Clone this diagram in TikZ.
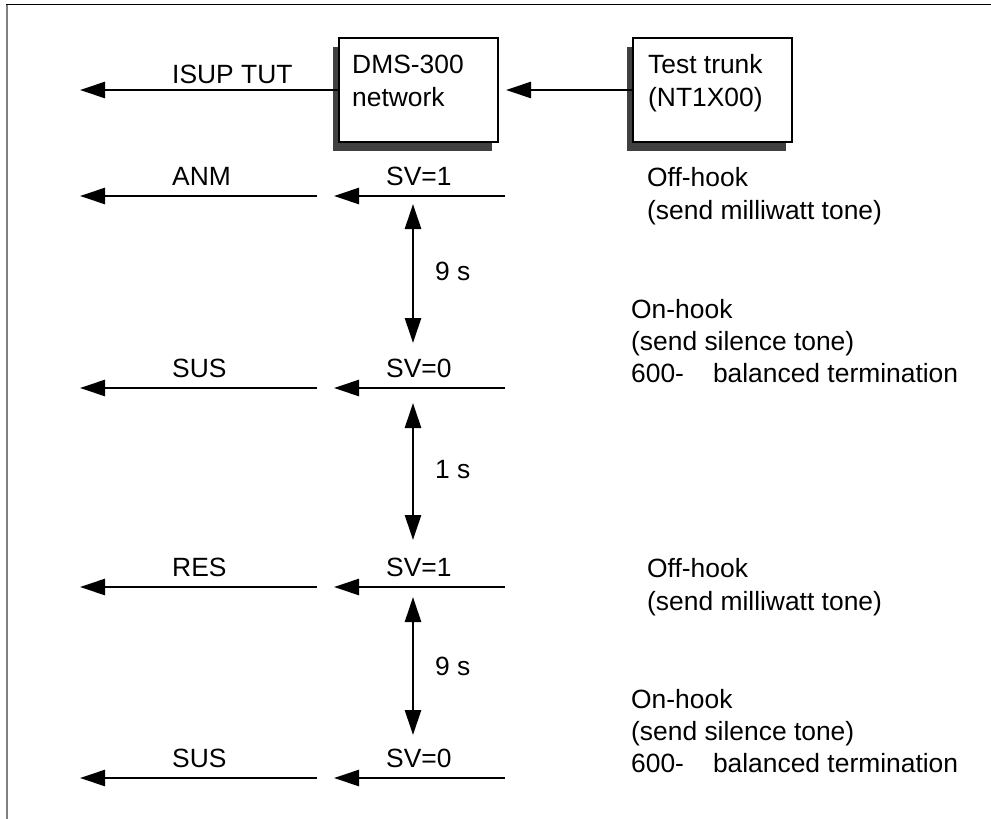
\documentclass[tikz,border=0pt]{standalone}
\usepackage{fontspec}
\setmainfont{Liberation Sans}
\usetikzlibrary{arrows.meta,shadows}
\newcommand\fsz{\fontsize{26.4pt}{32pt}\selectfont}
\begin{document}
\begin{tikzpicture}[x=1pt,y=-1pt,
  arr/.style={line width=2.6pt, -{Triangle[length=25pt,width=16pt]}},
  darr/.style={line width=2.6pt, {Triangle[length=25pt,width=16pt]}-{Triangle[length=25pt,width=16pt]}},
  box/.style={draw, line width=2pt, fill=white, minimum width=159pt, minimum height=104pt, inner sep=0pt,
    drop shadow={shadow xshift=-6pt, shadow yshift=-8.5pt, fill=black!75, opacity=1}},
  lbl/.style={anchor=base west, inner sep=0pt, font=\fsz},
  frametop/.style={line width=1.3pt, black},
  frameleft/.style={line width=1.7pt, black!50}]
\useasboundingbox (0,0) rectangle (991,819);
% frame
\coordinate (f0) at (6,4.5);
\coordinate (f1) at (991,4.5);
\coordinate (f2) at (7.3,4.5);
\coordinate (f3) at (7.3,819);
\draw[frametop] (f0) -- (f1);
\draw[frameleft] (f2) -- (f3);
% boxes
\node[box] (dms) at (418.5,90) {};
\node[box] (tt) at (712.5,90) {};
\node[lbl] (dmst1) at (352,73) {DMS-300};
\node[lbl] (dmst2) at (352,106) {network};
\node[lbl] (ttt1) at (648,73) {Test trunk};
\node[lbl] (ttt2) at (648,106) {(NT1X00)};
\node[lbl] (isupl) at (172,83) {ISUP TUT};
\coordinate (isup) at (80,90);
\draw[arr] (dms.west) -- (isup);
\draw[arr, shorten >=7pt] (tt.west) -- (dms.east);
% rows
\foreach \n/\L/\a/\b in {1/196/ANM/SV=1, 2/388/SUS/SV=0, 3/587/RES/SV=1, 4/778/SUS/SV=0}{
  \coordinate (l\n t) at (80,\L);
  \coordinate (l\n s) at (317,\L);
  \coordinate (r\n t) at (334,\L);
  \coordinate (r\n s) at (505,\L);
  \draw[arr] (l\n s) -- (l\n t);
  \draw[arr] (r\n s) -- (r\n t);
  \node[lbl] (la\n) at (172,\L-11) {\a};
  \node[lbl] (lb\n) at (386,\L-11) {\b};
}
% vertical timing arrows
\coordinate (v1a) at (413,204); \coordinate (v1b) at (413,343);
\coordinate (v2a) at (413,403); \coordinate (v2b) at (413,540);
\coordinate (v3a) at (413,597); \coordinate (v3b) at (413,735);
\draw[darr] (v1a) -- (v1b);
\draw[darr] (v2a) -- (v2b);
\draw[darr] (v3a) -- (v3b);
\node[lbl] (t1) at (435,280) {9 s};
\node[lbl] (t2) at (435,478) {1 s};
\node[lbl] (t3) at (435,675) {9 s};
% right side descriptions
\node[lbl] (a1) at (647,186) {Off-hook};
\node[lbl] (a2) at (647,219) {(send milliwatt tone)};
\node[lbl] (b1) at (631,318) {On-hook};
\node[lbl] (b2) at (631,350) {(send silence tone)};
\node[lbl] (b3) at (631,382) {600-\hspace{29pt}balanced termination};
\node[lbl] (c1) at (647,577) {Off-hook};
\node[lbl] (c2) at (647,610) {(send milliwatt tone)};
\node[lbl] (d1) at (631,708) {On-hook};
\node[lbl] (d2) at (631,740) {(send silence tone)};
\node[lbl] (d3) at (631,772) {600-\hspace{29pt}balanced termination};
\end{tikzpicture}
\end{document}
